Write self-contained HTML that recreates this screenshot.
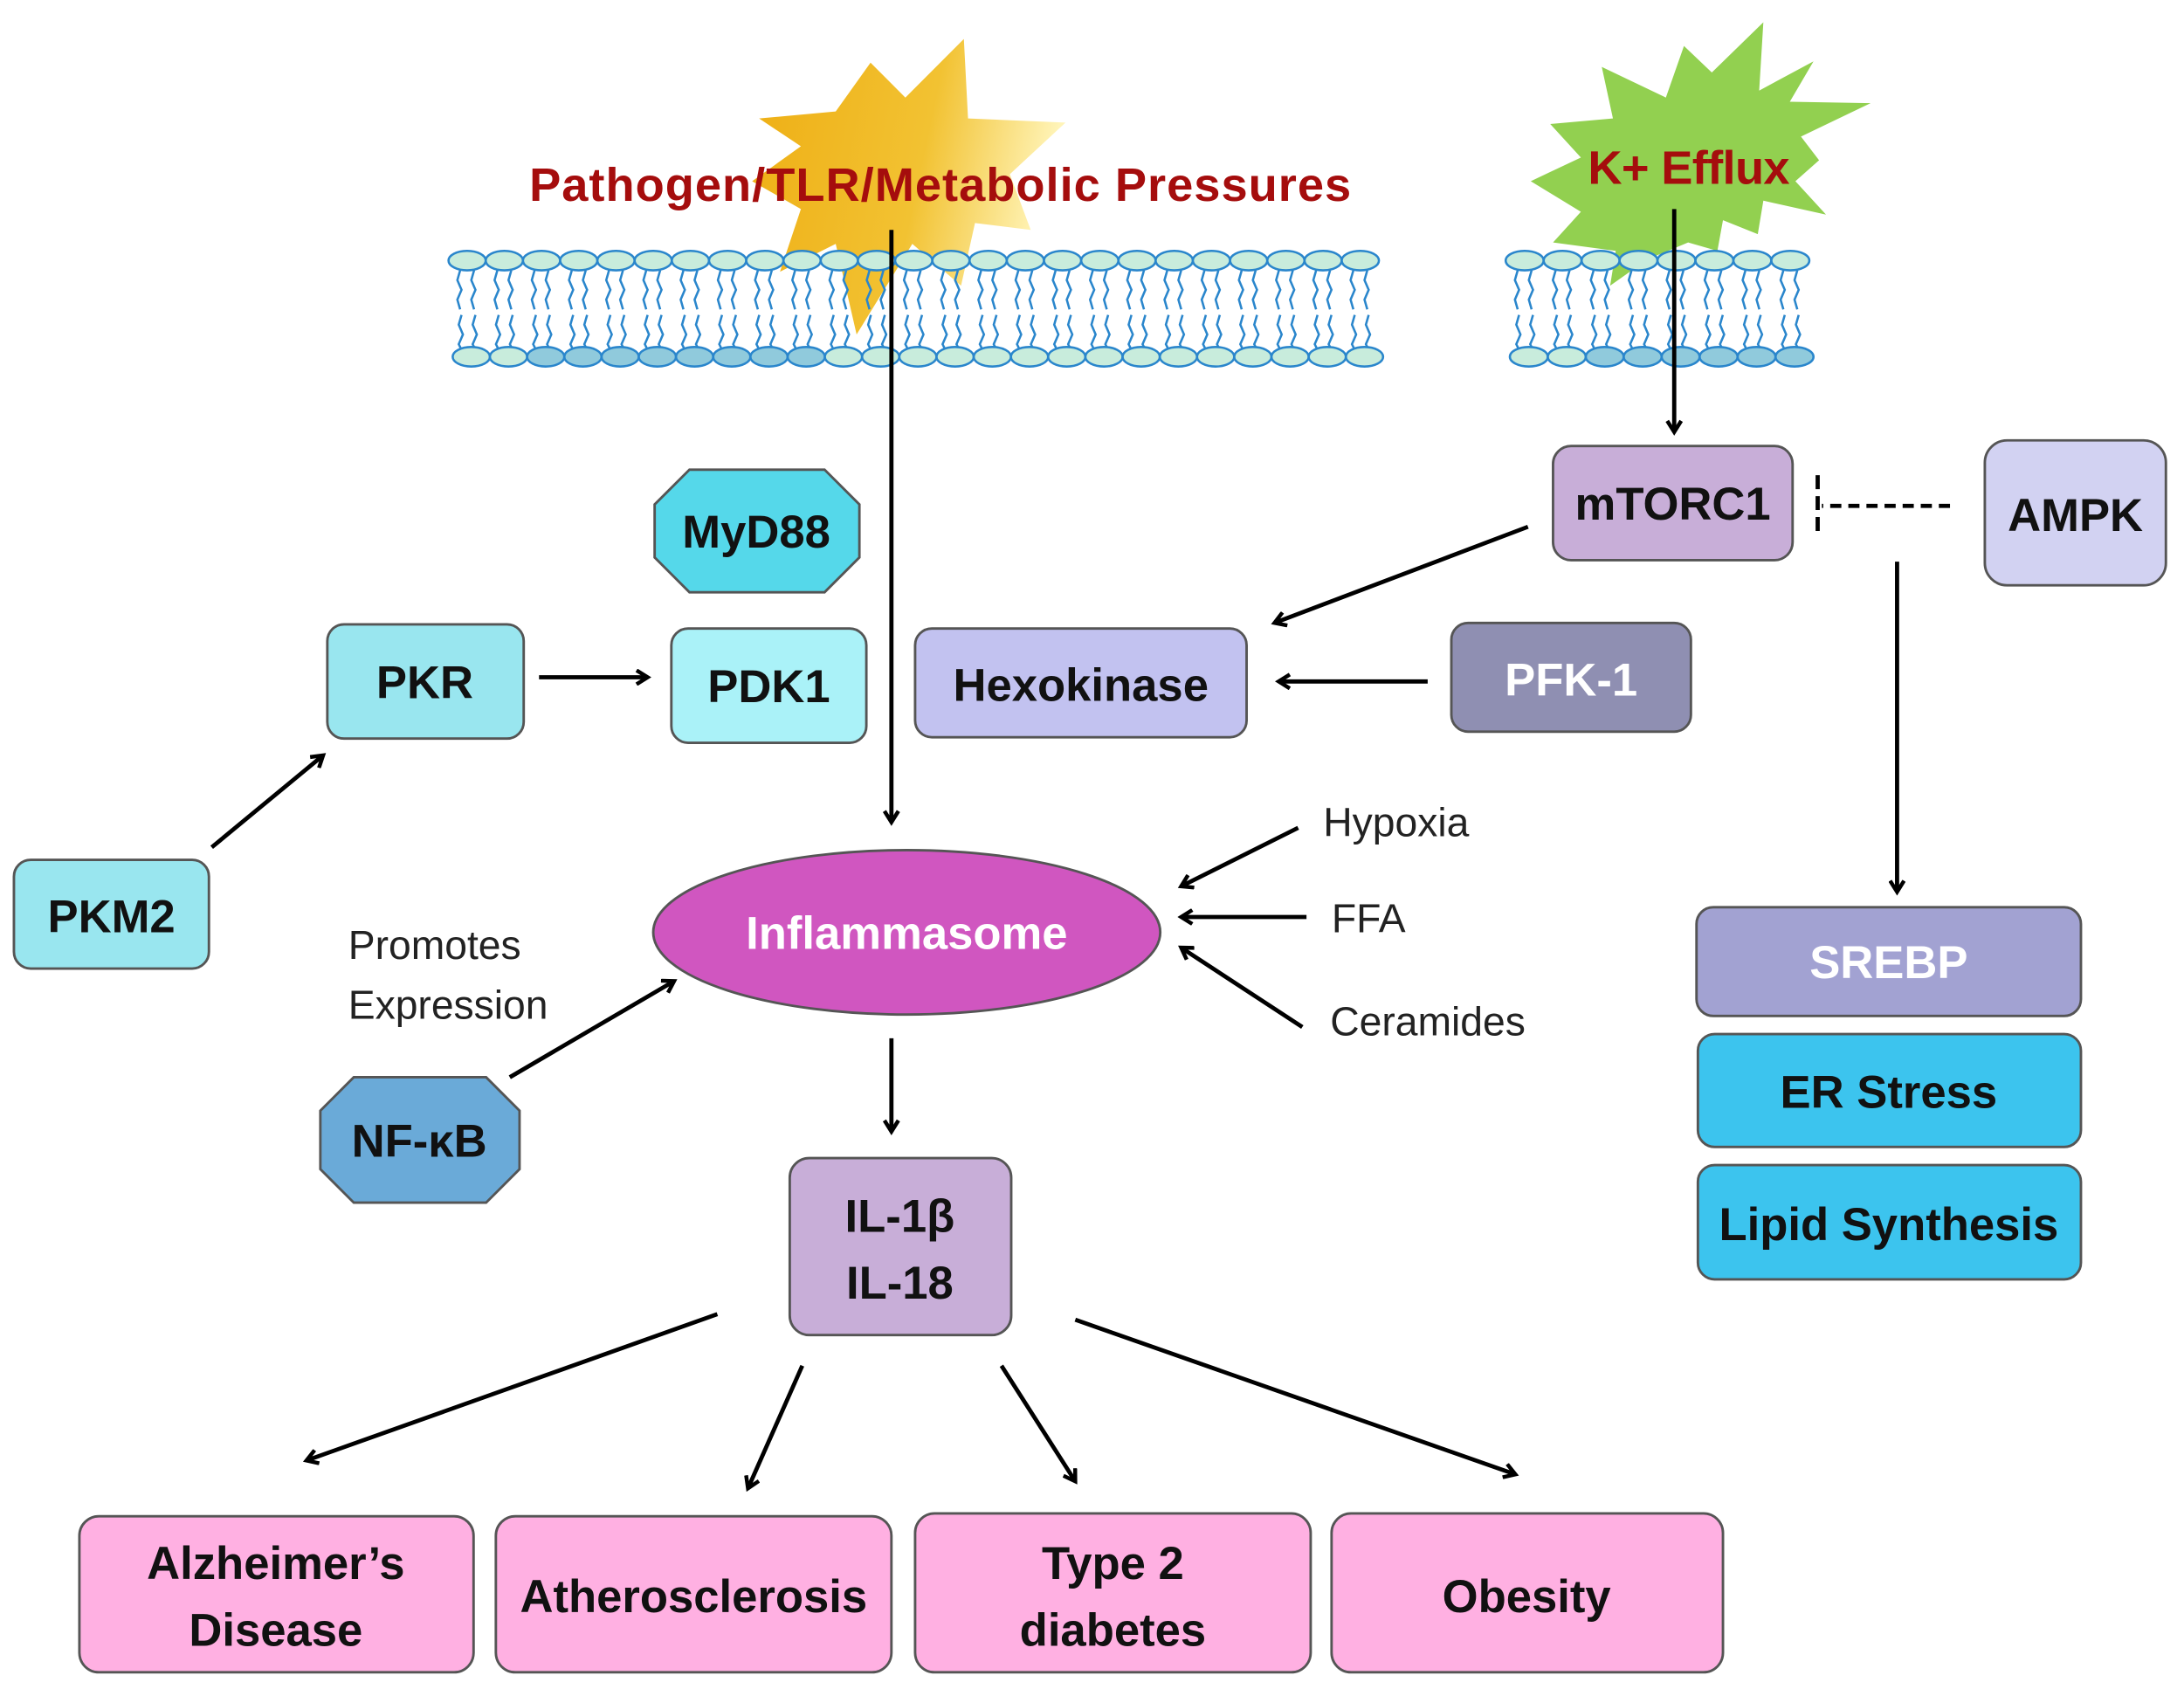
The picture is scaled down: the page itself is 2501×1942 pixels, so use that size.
<!DOCTYPE html>
<html><head><meta charset="utf-8"><style>
html,body{margin:0;padding:0;background:#fff;}
svg{display:block;}
text{font-family:"Liberation Sans Narrow","Liberation Sans",sans-serif;}
.b{font-weight:bold;font-size:33px;fill:#111;}
.n{font-size:29px;fill:#222;}
.box{stroke:#555;stroke-width:1.8;}
.ar{stroke:#000;stroke-width:3;fill:none;marker-end:url(#ah);}
</style></head><body>
<svg id="s" width="2501" height="1942" viewBox="0 0 1568 1217" preserveAspectRatio="none" xmlns="http://www.w3.org/2000/svg">
<defs>
<marker id="ah" markerWidth="12" markerHeight="12" refX="9" refY="6" orient="auto" markerUnits="userSpaceOnUse">
<path d="M1,1 L9,6 L1,11" fill="none" stroke="#000" stroke-width="2.8"/>
</marker>
<linearGradient id="yg" x1="0" y1="0" x2="1" y2="0.2">
<stop offset="0" stop-color="#eeae14"/><stop offset="0.6" stop-color="#f2c232"/><stop offset="1" stop-color="#fff4b8"/>
</linearGradient>
</defs>
<!-- stars -->
<polygon fill="url(#yg)" points="692,28 695,85 765,88 725,125 740,165 700,160 690,205 655,175 615,240 600,175 560,195 575,150 540,130 575,105 545,85 600,80 625,45 650,70"/>
<polygon fill="#92d050" points="1266,16 1263,65 1302,44 1285,73 1343,74 1293,98 1306,115 1289,130 1311,154 1266,144 1262,168 1237,158 1233,180 1212,174 1183,186 1156,205 1160,180 1115,174 1135,152 1099,130 1135,113 1113,89 1158,85 1150,48 1196,70 1209,33 1229,52"/>
<g id="mem"></g>
<text x="380" y="144" style="font-weight:bold;font-size:34px;fill:#a50d0d" textLength="590">Pathogen/TLR/Metabolic Pressures</text>
<text x="1140" y="132" style="font-weight:bold;font-size:34px;fill:#a50d0d" textLength="145">K+ Efflux</text>

<!-- arrows -->
<line class="ar" x1="640" y1="165" x2="640" y2="590"/>
<line class="ar" x1="1202" y1="150" x2="1202" y2="310"/>
<line x1="1400" y1="363" x2="1308" y2="363" stroke="#000" stroke-width="3" stroke-dasharray="8,5"/>
<line x1="1305" y1="341" x2="1305" y2="385" stroke="#000" stroke-width="3" stroke-dasharray="10,5"/>
<line class="ar" x1="1097" y1="378" x2="915" y2="447"/>
<line class="ar" x1="1362" y1="403" x2="1362" y2="640"/>
<line class="ar" x1="387" y1="486" x2="465" y2="486"/>
<line class="ar" x1="1025" y1="489" x2="918" y2="489"/>
<line class="ar" x1="152" y1="608" x2="232" y2="542"/>
<line class="ar" x1="932" y1="594" x2="848" y2="636"/>
<line class="ar" x1="938" y1="658" x2="848" y2="658"/>
<line class="ar" x1="935" y1="737" x2="848" y2="680"/>
<line class="ar" x1="366" y1="773" x2="484" y2="704"/>
<line class="ar" x1="640" y1="745" x2="640" y2="812"/>
<line class="ar" x1="515" y1="943" x2="220" y2="1048"/>
<line class="ar" x1="576" y1="980" x2="537" y2="1068"/>
<line class="ar" x1="719" y1="980" x2="772" y2="1063"/>
<line class="ar" x1="772" y1="947" x2="1088" y2="1058"/>

<!-- boxes -->
<rect class="box" x="1115" y="320" width="172" height="82" rx="13" fill="#c8aed8"/>
<text class="b" x="1201" y="373" text-anchor="middle">mTORC1</text>
<rect class="box" x="1425" y="316" width="130" height="104" rx="16" fill="#d2d2f2"/>
<text class="b" x="1490" y="381" text-anchor="middle">AMPK</text>
<polygon class="box" fill="#55d8ea" points="495,337 592,337 617,362 617,400 592,425 495,425 470,400 470,362"/>
<text class="b" x="543" y="393" text-anchor="middle">MyD88</text>
<rect class="box" x="235" y="448" width="141" height="82" rx="12" fill="#99e6ef"/>
<text class="b" x="305" y="501" text-anchor="middle">PKR</text>
<rect class="box" x="482" y="451" width="140" height="82" rx="12" fill="#aaf2f8"/>
<text class="b" x="552" y="504" text-anchor="middle">PDK1</text>
<rect class="box" x="657" y="451" width="238" height="78" rx="12" fill="#c2c2f0"/>
<text class="b" x="776" y="503" text-anchor="middle">Hexokinase</text>
<rect class="box" x="1042" y="447" width="172" height="78" rx="12" fill="#8f8fb2"/>
<text class="b" x="1128" y="499" text-anchor="middle" style="fill:#fff">PFK-1</text>
<rect class="box" x="10" y="617" width="140" height="78" rx="12" fill="#99e6ef"/>
<text class="b" x="80" y="669" text-anchor="middle">PKM2</text>
<ellipse class="box" cx="651" cy="669" rx="182" ry="59" fill="#d056c0"/>
<text class="b" x="651" y="681" text-anchor="middle" style="fill:#fff">Inflammasome</text>
<text class="n" x="950" y="600">Hypoxia</text>
<text class="n" x="956" y="669">FFA</text>
<text class="n" x="955" y="743">Ceramides</text>
<text class="n" x="250" y="688">Promotes</text>
<text class="n" x="250" y="731">Expression</text>
<polygon class="box" fill="#6aaad8" points="254,773 349,773 373,797 373,839 349,863 254,863 230,839 230,797"/>
<text class="b" x="301" y="830" text-anchor="middle">NF-κB</text>
<rect class="box" x="567" y="831" width="159" height="127" rx="14" fill="#c8aed8"/>
<text class="b" x="646" y="884" text-anchor="middle">IL-1β</text>
<text class="b" x="646" y="932" text-anchor="middle">IL-18</text>
<rect class="box" x="1218" y="651" width="276" height="78" rx="12" fill="#a2a2d2"/>
<text class="b" x="1356" y="702" text-anchor="middle" style="fill:#fff">SREBP</text>
<rect class="box" x="1219" y="742" width="275" height="81" rx="12" fill="#3cc4ee"/>
<text class="b" x="1356" y="795" text-anchor="middle">ER Stress</text>
<rect class="box" x="1219" y="836" width="275" height="82" rx="12" fill="#3cc4ee"/>
<text class="b" x="1356" y="890" text-anchor="middle">Lipid Synthesis</text>
<rect class="box" x="57" y="1088" width="283" height="112" rx="14" fill="#ffb0e2"/>
<text class="b" x="198" y="1133" text-anchor="middle">Alzheimer’s</text>
<text class="b" x="198" y="1181" text-anchor="middle">Disease</text>
<rect class="box" x="356" y="1088" width="284" height="112" rx="14" fill="#ffb0e2"/>
<text class="b" x="498" y="1157" text-anchor="middle">Atherosclerosis</text>
<rect class="box" x="657" y="1086" width="284" height="114" rx="14" fill="#ffb0e2"/>
<text class="b" x="799" y="1133" text-anchor="middle">Type 2</text>
<text class="b" x="799" y="1181" text-anchor="middle">diabetes</text>
<rect class="box" x="956" y="1086" width="281" height="114" rx="14" fill="#ffb0e2"/>
<text class="b" x="1096" y="1157" text-anchor="middle">Obesity</text>
</svg>
<script>
(function(){
var g=document.getElementById('mem'),ns='http://www.w3.org/2000/svg',h='';
function mem(x0,x1){
  var n=Math.round((x1-x0)/27),w=(x1-x0)/n,i;
  for(i=0;i<n;i++){
    var cx=x0+w*i+w/2;
    [cx-5,cx+5].forEach(function(tx){
      h+='<polyline points="'+tx+',194 '+(tx-2)+',201 '+(tx+1)+',208 '+(tx-2)+',215 '+tx+',222" fill="none" stroke="#2a86cc" stroke-width="1.6"/>';
      h+='<polyline points="'+(tx+1)+',226 '+(tx-1)+',233 '+(tx+2)+',240 '+(tx-1)+',247 '+(tx+1)+',251" fill="none" stroke="#2a86cc" stroke-width="1.6"/>';
    });
  }
  for(i=0;i<n;i++){
    var cx=x0+w*i+w/2;
    h+='<ellipse cx="'+cx+'" cy="187" rx="'+(w/2)+'" ry="7" fill="#c8ecdc" stroke="#2a86cc" stroke-width="1.6"/>';
    var f=(i>=2&&i<10)?'#90cadc':'#c8ecdc';
    h+='<ellipse cx="'+(cx+3)+'" cy="256" rx="'+(w/2)+'" ry="7" fill="'+f+'" stroke="#2a86cc" stroke-width="1.6"/>';
  }
}
mem(322,990);mem(1081,1299);
g.innerHTML=h;
})();
</script>
</body></html>
